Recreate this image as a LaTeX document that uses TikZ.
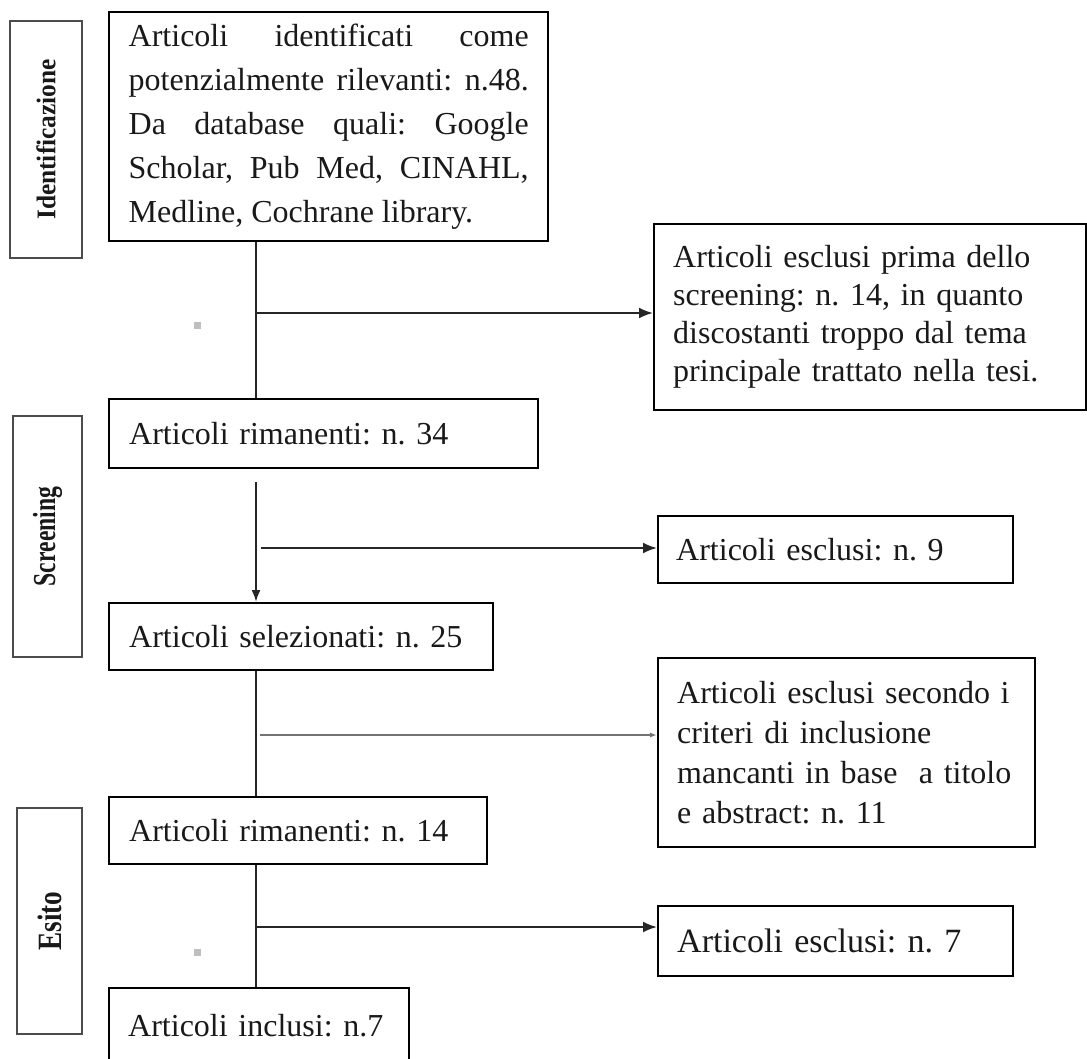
\documentclass[tikz,border=0pt]{standalone}
\usepackage{fontspec}
\setmainfont{Liberation Serif}
\usetikzlibrary{arrows.meta}
\frenchspacing

\begin{document}
\begin{tikzpicture}[x=1pt, y=-1pt,
  box/.style={draw=black, line width=2.4pt, anchor=north west, inner sep=0pt, align=left, text=black!90, font=\fontsize{32}{38}\selectfont},
  phase/.style={draw=black!70, line width=2.4pt, rotate=90, inner sep=0pt, text=black!90},
  link/.style={draw=black!85, line width=2pt},
  flow/.style={link, -{Latex[length=14pt, width=11pt]}},
  thinflow/.style={draw=black!55, line width=1.6pt, -{Latex[length=7pt, width=5pt]}}]
\useasboundingbox (0,0) rectangle (1087,1058);

% phases
\node[phase, minimum width=237pt, minimum height=72pt] (ident) at (46,139.5) {\fontsize{27}{27}\selectfont\bfseries\scalebox{0.94}[1]{Identificazione}};
\node[phase, minimum width=241pt, minimum height=69pt] (scr) at (47.5,536.5) {\fontsize{32}{32}\selectfont\bfseries\scalebox{0.74}[1]{Screening}};
\node[phase, minimum width=226pt, minimum height=65pt] (esito) at (49.5,921) {\fontsize{34}{34}\selectfont\bfseries\scalebox{0.8}[1]{Esito}};

% main column
\node[box, minimum width=439pt, minimum height=229pt, text width=400pt, align=justify, font=\fontsize{32}{44}\selectfont] (found) at (108,11) {\tolerance=10000 Articoli identificati come\linebreak potenzialmente rilevanti: n.48.\linebreak Da database quali: Google\linebreak Scholar, Pub Med, CINAHL,\linebreak Medline, Cochrane library.};
\node[box, minimum width=429pt, minimum height=69pt, text width=389pt] (left1) at (108,398) {Articoli rimanenti: n. 34};
\node[box, minimum width=384pt, minimum height=67pt, text width=344pt] (sel) at (108,602) {Articoli selezionati: n. 25};
\node[box, minimum width=378pt, minimum height=67pt, text width=338pt] (left2) at (108,796) {Articoli rimanenti: n. 14};
\node[box, minimum width=300pt, minimum height=74pt, text width=262pt] (incl) at (108,987) {Articoli inclusi: n.7};

% excluded
\node[box, minimum width=432pt, minimum height=186pt, text width=394pt] (excl1) at (653,223) {Articoli esclusi prima dello\\ screening: n. 14, in quanto\\ discostanti troppo dal tema\\ principale trattato nella tesi.};
\node[box, minimum width=355pt, minimum height=67pt, text width=319pt] (excl2) at (657,515) {Articoli esclusi: n. 9};
\node[box, minimum width=377pt, minimum height=189pt, text width=339pt, font=\fontsize{32}{40}\selectfont] (excl3) at (657,657) {Articoli esclusi secondo i\\ criteri di inclusione\\ mancanti in base~ a titolo\\ e abstract: n. 11};
\node[box, minimum width=355pt, minimum height=70pt, text width=317pt, font=\fontsize{34}{40}\selectfont] (excl4) at (657,905) {Articoli esclusi: n. 7};

\coordinate (spine) at (256,0);
\coordinate (split1) at (256,313);
\coordinate (split2) at (261,548);
\coordinate (split3) at (260,735);
\coordinate (split4) at (256,927);

\draw[link] (found.south -| spine) -- (left1.north -| spine);
\draw[link, -{Latex[length=12pt, width=9pt]}, shorten <=13pt] (left1.south -| spine) -- (sel.north -| spine);
\draw[link] (sel.south -| spine) -- (left2.north -| spine);
\draw[link] (left2.south -| spine) -- (incl.north -| spine);

\draw[flow] (split1) -- (excl1.west |- split1);
\draw[flow] (split2) -- (excl2.west |- split2);
\draw[thinflow] (split3) -- (excl3.west |- split3);
\draw[flow] (split4) -- (excl4.west |- split4);

\fill[black!25] (194,322) rectangle (201,329);
\fill[black!25] (194,949) rectangle (201,956);
\end{tikzpicture}
\end{document}
